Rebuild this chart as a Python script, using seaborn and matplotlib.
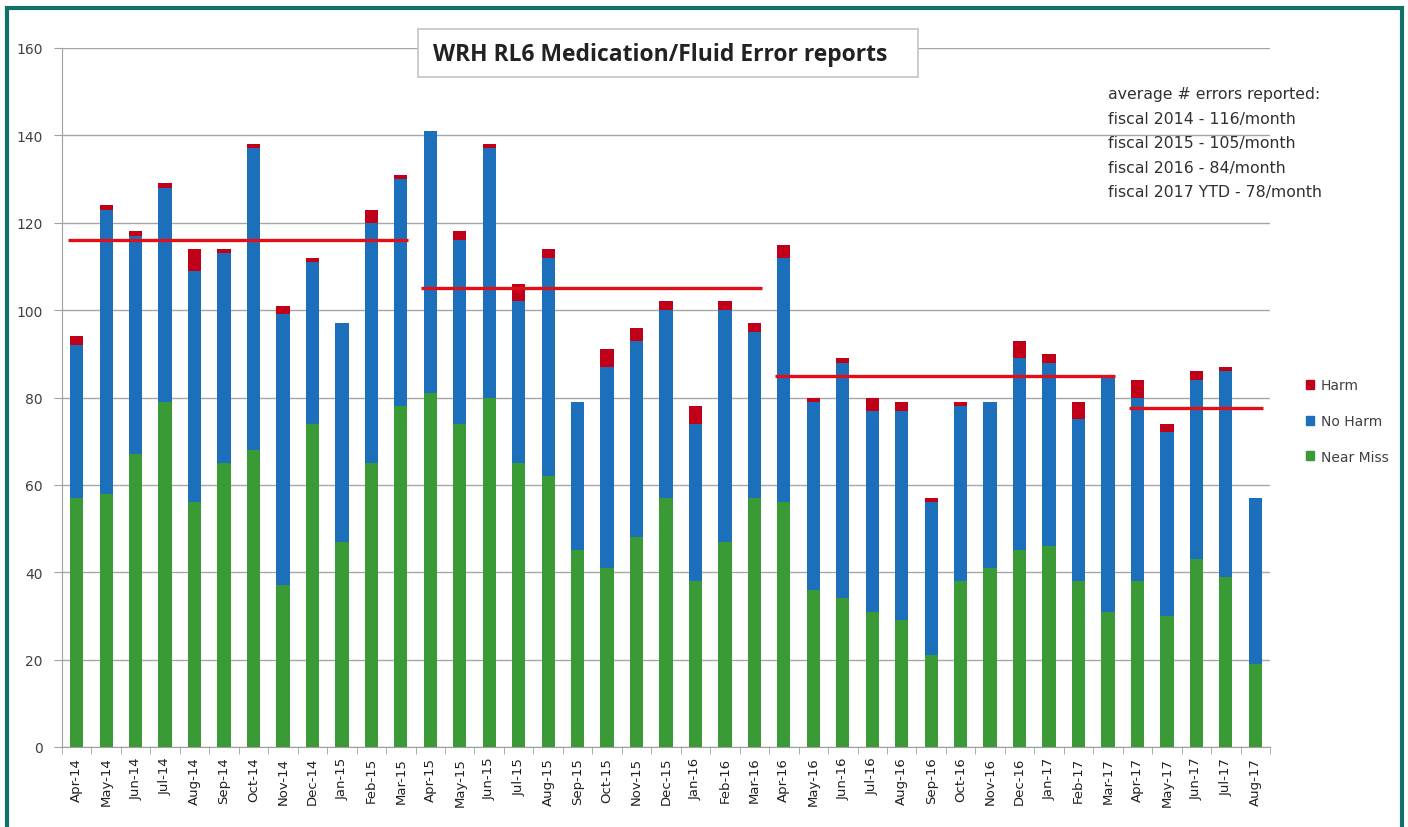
import matplotlib
matplotlib.use("Agg")
import matplotlib.pyplot as plt
from matplotlib.patches import Rectangle, Patch
import seaborn as sns
import pandas as pd
import numpy as np

months = ["Apr-14", "May-14", "Jun-14", "Jul-14", "Aug-14", "Sep-14", "Oct-14", "Nov-14", "Dec-14",
          "Jan-15", "Feb-15", "Mar-15", "Apr-15", "May-15", "Jun-15", "Jul-15", "Aug-15", "Sep-15",
          "Oct-15", "Nov-15", "Dec-15", "Jan-16", "Feb-16", "Mar-16", "Apr-16", "May-16", "Jun-16",
          "Jul-16", "Aug-16", "Sep-16", "Oct-16", "Nov-16", "Dec-16", "Jan-17", "Feb-17", "Mar-17",
          "Apr-17", "May-17", "Jun-17", "Jul-17", "Aug-17"]
near_miss = [57, 58, 67, 79, 56, 65, 68, 37, 74, 47, 65, 78, 81, 74, 80, 65, 62, 45, 41, 48, 57,
             38, 47, 57, 56, 36, 34, 31, 29, 21, 38, 41, 45, 46, 38, 31, 38, 30, 43, 39, 19]
no_harm = [35, 65, 50, 49, 53, 48, 69, 62, 37, 50, 55, 52, 60, 42, 57, 37, 50, 34, 46, 45, 43,
           36, 53, 38, 56, 43, 54, 46, 48, 35, 40, 38, 44, 42, 37, 54, 42, 42, 41, 47, 38]
harm = [2, 1, 1, 1, 5, 1, 1, 2, 1, 0, 3, 1, 0, 2, 1, 4, 2, 0, 4, 3, 2, 4, 2, 2, 3, 1, 1, 3, 2,
        1, 1, 0, 4, 2, 4, 0, 4, 2, 2, 1, 0]

# fiscal year averages: (value, first month, last month)
avg_values = [116, 105, 85, 77.5]
avg_start = ["Apr-14", "Apr-15", "Apr-16", "Apr-17"]
avg_end = ["Mar-15", "Mar-16", "Mar-17", "Aug-17"]

legend_labels = ["Harm", "No Harm", "Near Miss"]
c_green = "#3a9a35"
c_blue = "#1c6fbb"
c_red = "#c00018"

df = pd.DataFrame({"month": months, "near": near_miss, "noharm": no_harm, "harm": harm})
df["t2"] = df["near"] + df["noharm"]
df["t3"] = df["t2"] + df["harm"]

sns.set_style("white")
plt.rcParams["font.family"] = ["DejaVu Sans"]

fig = plt.figure(figsize=(14.08, 8.28), dpi=100)
ax = fig.add_axes([62 / 1408, 1 - 748 / 828, 1208 / 1408, 699 / 828])

w = 0.45
kw = dict(width=w, saturation=1, ax=ax, edgecolor="none", linewidth=0)
sns.barplot(data=df, x="month", y="t3", color=c_red, zorder=2, **kw)
sns.barplot(data=df, x="month", y="t2", color=c_blue, zorder=3, **kw)
sns.barplot(data=df, x="month", y="near", color=c_green, zorder=4, **kw)

pos = {m: i for i, m in enumerate(months)}
for v, s, e in zip(avg_values, avg_start, avg_end):
    ax.hlines(v, pos[s] - 0.3, pos[e] + 0.25, color="#e0101a", lw=2.4, zorder=5)

ax.set_ylim(0, 160)
ax.set_xlim(-0.5, len(months) - 0.5)
ax.set_yticks(range(0, 161, 20))
ax.yaxis.grid(True, color="#a6a6a6", lw=1)
ax.set_axisbelow(True)
ax.set_xlabel("")
ax.set_ylabel("")
for sp in ["top", "right"]:
    ax.spines[sp].set_visible(False)
for sp in ["left", "bottom"]:
    ax.spines[sp].set_color("#a0a0a0")
ax.tick_params(axis="y", labelsize=10, colors="#404040", length=6, left=True, color="#a0a0a0", pad=8)
ax.tick_params(axis="x", labelsize=9.5, colors="#202020", length=0, pad=7)
ax.set_xticks(range(len(months)))
ax.set_xticklabels(months, rotation=90)
ax.set_xticks(np.arange(-0.5, len(months), 1), minor=True)
ax.tick_params(axis="x", which="minor", length=5, color="#a0a0a0", bottom=True)

fig.patches.append(Rectangle((418 / 1408, 1 - 78 / 828), 500 / 1408, 48 / 828, transform=fig.transFigure,
                             fc="white", ec="#c4c4c4", lw=1.2, zorder=10))
fig.text(660 / 1408, 1 - 55 / 828, "WRH RL6 Medication/Fluid Error reports", ha="center", va="center",
         fontsize=16.5, fontweight="bold", color="#222222", family="Open Sans", zorder=11)

fig.text(1108 / 1408, 1 - 87 / 828,
         "average # errors reported:\nfiscal 2014 - 116/month\nfiscal 2015 - 105/month\n"
         "fiscal 2016 - 84/month\nfiscal 2017 YTD - 78/month",
         ha="left", va="top", fontsize=11.3, color="#303030", linespacing=1.8)

handles = [Patch(color=c_red), Patch(color=c_blue), Patch(color=c_green)]
fig.legend(handles, legend_labels, loc="upper left", bbox_to_anchor=(1293 / 1408, 1 - 367 / 828),
           frameon=False, fontsize=10, handlelength=0.6, handleheight=0.6, labelspacing=1.55,
           handletextpad=0.5, labelcolor="#404040")

fig.patches.append(Rectangle((7 / 1408, -0.05), 1395 / 1408, 1.05 - 9 / 828, transform=fig.transFigure,
                             fill=False, ec="#137068", lw=3))

fig.savefig("out.png", dpi=100)
